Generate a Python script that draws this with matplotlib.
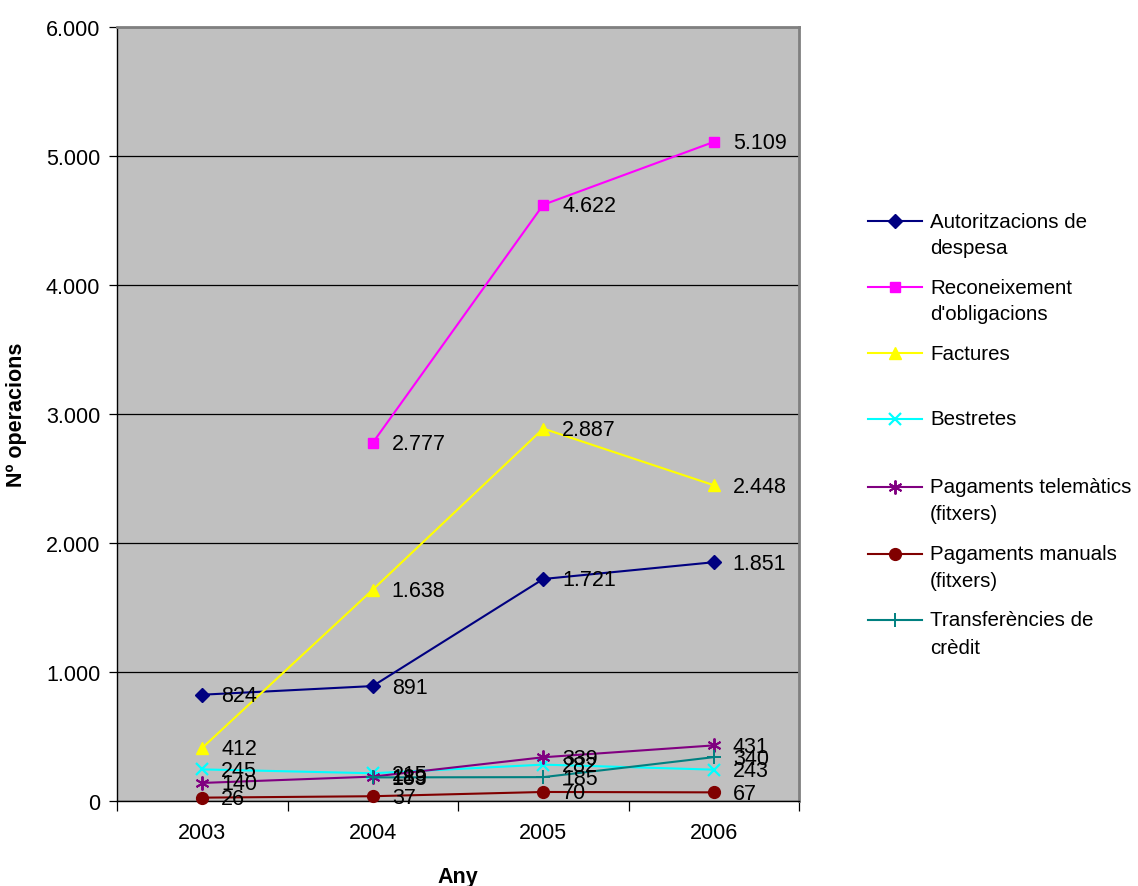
import matplotlib
matplotlib.use("Agg")
import matplotlib.pyplot as plt
from matplotlib.lines import Line2D
from matplotlib.ticker import FuncFormatter, FixedLocator
import numpy as np

plt.rcParams['font.family'] = ['Liberation Sans', 'DejaVu Sans']

years = ["2003", "2004", "2005", "2006"]
autoritzacions = [824, 891, 1721, 1851]
reconeixement = [np.nan, 2777, 4622, 5109]
factures = [412, 1638, 2887, 2448]
bestretes = [245, 215, 282, 243]
telematics = [140, 189, 339, 431]
manuals = [26, 37, 70, 67]
transferencies = [np.nan, 183, 185, 340]

series = [
    (["Autoritzacions de", "despesa"], autoritzacions, dict(color="#000080", marker="D", markersize=7.5, markerfacecolor="#000080", markeredgecolor="#000080")),
    (["Reconeixement", "d'obligacions"], reconeixement, dict(color="#FF00FF", marker="s", markersize=7.5, markerfacecolor="#FF00FF", markeredgecolor="#FF00FF")),
    (["Factures"], factures, dict(color="#FFFF00", marker="^", markersize=9, markerfacecolor="#FFFF00", markeredgecolor="#FFFF00")),
    (["Bestretes"], bestretes, dict(color="#00FFFF", marker="x", markersize=9, markeredgewidth=1.6, markeredgecolor="#00FFFF")),
    (["Pagaments telemàtics", "(fitxers)"], telematics, dict(color="#800080", marker=(6, 2, 0), markersize=10, markeredgewidth=1.4, markeredgecolor="#800080")),
    (["Pagaments manuals", "(fitxers)"], manuals, dict(color="#800000", marker="o", markersize=8.5, markerfacecolor="#800000", markeredgecolor="#800000")),
    (["Transferències de", "crèdit"], transferencies, dict(color="#008080", marker="+", markersize=10, markeredgewidth=1.4, markeredgecolor="#008080")),
]

W, H = 1138, 887
fig = plt.figure(figsize=(W / 100, H / 100), dpi=100)
fig.patch.set_facecolor("white")
ax = fig.add_axes([117 / W, 1 - 802 / H, (799 - 117) / W, (802 - 28) / H])
ax.set_facecolor("#C0C0C0")

x = np.arange(len(years))
FS = 15.5
FS_LEG = 14.8

for label, vals, style in series:
    v = np.array(vals, dtype=float)
    ax.plot(x, v, linewidth=1.5, clip_on=False, zorder=3, **style)
    for xi, vi in zip(x, v):
        if np.isnan(vi):
            continue
        s = f"{int(vi):,}".replace(",", ".")
        ax.annotate(s, (xi, vi), xytext=(19, -1), textcoords="offset pixels",
                    ha="left", va="center", fontsize=FS, color="black", zorder=5)

ax.set_xlim(-0.5, 3.5)
ax.set_ylim(0, 6000)
ax.yaxis.set_major_locator(FixedLocator([0, 1000, 2000, 3000, 4000, 5000, 6000]))
ax.yaxis.set_major_formatter(FuncFormatter(lambda v, p: f"{int(v):,}".replace(",", ".")))
ax.grid(axis="y", color="black", linewidth=0.9, zorder=1)
ax.set_axisbelow(True)

ax.set_xticks([-0.5, 0.5, 1.5, 2.5, 3.5])
ax.set_xticklabels([])
ax.set_xticks(x, minor=True)
ax.set_xticklabels(years, minor=True)
ax.tick_params(axis="x", which="major", length=7, width=0.9, direction="out", color="black")
ax.tick_params(axis="x", which="minor", length=0, pad=15, labelsize=FS)
ax.tick_params(axis="y", which="major", length=6, width=0.9, direction="out", labelsize=FS, pad=6)

for sp in ["left", "bottom"]:
    ax.spines[sp].set_color("black")
    ax.spines[sp].set_linewidth(1.0)
for sp in ["top", "right"]:
    ax.spines[sp].set_color("#808080")
    ax.spines[sp].set_linewidth(2.0)

ax.set_xlabel("Any", fontsize=FS, fontweight="bold", labelpad=17)
ax.set_ylabel("Nº operacions", fontsize=FS, fontweight="bold", labelpad=14)

# legend (manual, matching uniform spacing)
entry_y = [222, 288, 354, 420, 488, 555, 621]
for (label, vals, style), ey in zip(series, entry_y):
    yf = 1 - ey / H
    st = dict(style)
    fig.add_artist(Line2D([868 / W, 922 / W], [yf, yf], transform=fig.transFigure,
                          color=st.pop("color"), linewidth=1.5))
    fig.add_artist(Line2D([895 / W], [yf], transform=fig.transFigure, linestyle="none", **st))
    for i, line in enumerate(label):
        fig.text(930 / W, 1 - (ey + i * 27) / H, line, fontsize=FS_LEG, ha="left", va="center")

fig.savefig("out.png", dpi=100)
